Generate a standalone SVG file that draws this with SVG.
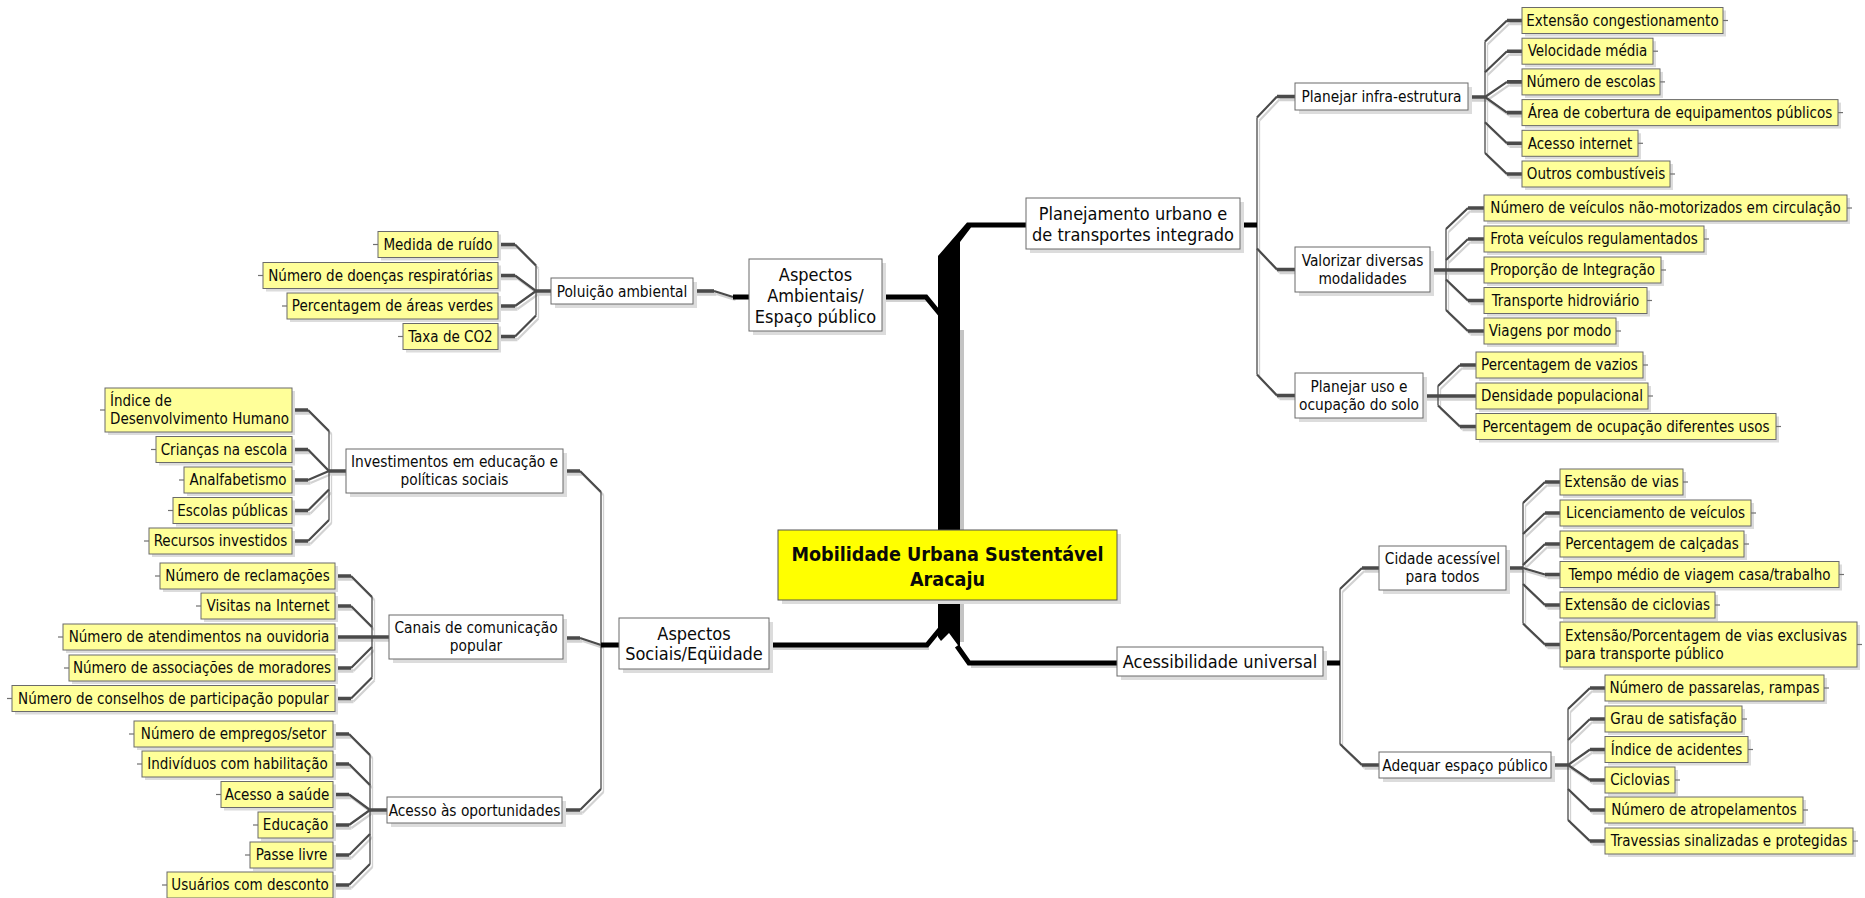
<svg xmlns="http://www.w3.org/2000/svg" xmlns:xlink="http://www.w3.org/1999/xlink" width="1865" height="898" viewBox="0 0 1865 898">
<style>
.t{font-family:"DejaVu Sans Condensed","DejaVu Sans",sans-serif;font-stretch:condensed;fill:#0a0a0a}
.lt{font-size:15px}
.mt{font-size:15.3px}
.tt{font-size:18px}
.ct{font-size:19.6px;font-weight:bold}
.m{text-anchor:middle}
.sh{fill:#dcdcdc}
.leaf .b{fill:#ffff99;stroke:#6a6a6a;stroke-width:1}
.box .b{fill:#ffffff;stroke:#6a6a6a;stroke-width:1}
.core .b{fill:#ffff00;stroke:#555;stroke-width:1}
.stub{stroke:#707070;stroke-width:1.2}
.sp{fill:none;stroke-width:1.3}
.dg{fill:none;stroke-width:2.2}
.hz{fill:none;stroke-width:3.6}
.blk{fill:none;stroke:#000;stroke-width:5}
</style>
<defs>
<g id="branchGeom">
<path class="sp" d="M1257,117.5V374.5"/>
<path class="dg" d="M1257,117.5L1277,96.5M1257,248.5L1277,269.5M1257,374.5L1277,395.5"/>
<path class="hz" d="M1277,96.5H1295M1277,269.5H1295M1277,395.5H1295"/>
<path class="sp" d="M1485,41.5V153"/>
<path class="dg" d="M1485,41.5L1507,20.5M1485,72.2L1507,51.2M1485,97L1507,81.9M1485,97L1507,112.6M1485,122.3L1507,143.3M1485,153L1507,174"/>
<path class="hz" d="M1468,97H1485M1507,20.5H1522M1507,51.2H1522M1507,81.9H1522M1507,112.6H1522M1507,143.3H1522M1507,174H1522"/>
<path class="sp" d="M1446,229V310"/>
<path class="dg" d="M1446,229L1468,208M1446,260L1468,239M1446,279.5L1468,300.5M1446,310L1468,331"/>
<path class="hz" d="M1430,270H1484M1468,208H1484M1468,239H1484M1468,300.5H1484M1468,331H1484"/>
<path class="sp" d="M1438,386V405.5"/>
<path class="dg" d="M1438,386L1460,365M1438,405.5L1460,426.5"/>
<path class="hz" d="M1423,396H1476M1460,365H1476M1460,426.5H1476"/>
<path class="sp" d="M1340,589V744"/>
<path class="dg" d="M1340,589L1362,568M1340,744L1362,765"/>
<path class="hz" d="M1362,568H1379M1362,765H1379"/>
<path class="sp" d="M1523,503V623.5"/>
<path class="dg" d="M1523,503L1545,482M1523,534L1545,513M1523,565L1545,544M1523,568L1545,574.5M1523,584L1545,605M1523,623.5L1545,644.5"/>
<path class="hz" d="M1506,568H1523M1545,482H1560M1545,513H1560M1545,544H1560M1545,574.5H1560M1545,605H1560M1545,644.5H1560"/>
<path class="sp" d="M1568,709V820"/>
<path class="dg" d="M1568,709L1590,688M1568,740L1590,719M1568,765L1590,749.5M1568,765L1590,780M1568,789L1590,810M1568,820L1590,841"/>
<path class="hz" d="M1551,765H1568M1590,688H1605M1590,719H1605M1590,749.5H1605M1590,780H1605M1590,810H1605M1590,841H1605"/>
<path class="sp" d="M536,265.5V315.5"/>
<path class="dg" d="M536,265.5L515,244.5M536,291L515,275.5M536,291L515,306M536,315.5L515,336.5"/>
<path class="hz" d="M551,291H536M515,244.5H498M515,275.5H498M515,306H498M515,336.5H498"/>
<path class="dg" d="M733,297L714,291"/>
<path class="hz" d="M714,291H693"/>
<path class="sp" d="M329,431V520"/>
<path class="dg" d="M329,431L308,410M329,471L308,449.5M329,471L308,480M329,489.5L308,510.5M329,520L308,541"/>
<path class="hz" d="M346,471H329M308,410H292M308,449.5H292M308,480H292M308,510.5H292M308,541H292"/>
<path class="sp" d="M372,597V677.5"/>
<path class="dg" d="M372,597L351,576M372,627L351,606M372,647L351,668M372,677.5L351,698.5"/>
<path class="hz" d="M389,637H335M351,576H335M351,606H335M351,668H335M351,698.5H335"/>
<path class="sp" d="M370,755V864"/>
<path class="dg" d="M370,755L349,734M370,785L349,764M370,810L349,794.5M370,810L349,825M370,834L349,855M370,864L349,885"/>
<path class="hz" d="M387,810H370M349,734H333M349,764H333M349,794.5H333M349,825H333M349,855H333M349,885H333"/>
<path class="sp" d="M601,492V789"/>
<path class="dg" d="M601,492L580,471M601,645L580,638M601,789L580,810"/>
<path class="hz" d="M580,471H563M580,638H563M580,810H563"/>
</g>
<g id="trunkGeom">
<polygon points="938,256 967,222.5 1026,222.5 1026,227.5 971,227.5 960,242 960,648 949,633 941,641 938,637"/>
<path class="blk" d="M882,297H926L940,314"/>
<path class="blk" d="M769,645H927L941,628"/>
<path class="blk" d="M1117,663H969L957,646"/>
<path class="blk" d="M1240,225H1257M1323,663H1340M619,645H601M749,297H733"/>
</g>
</defs>

<g id="connectors">
<use xlink:href="#branchGeom" href="#branchGeom" transform="translate(2.5,3)" stroke="#d2d2d2"/>
<use xlink:href="#branchGeom" href="#branchGeom" stroke="#4a4a4a"/>
<rect x="960" y="330" width="4" height="312" fill="#c4c4c4"/>
<path d="M884,300.5H928M771,648.5H929M1119,666.5H971" fill="none" stroke="#d2d2d2" stroke-width="3"/>
<use xlink:href="#trunkGeom" href="#trunkGeom" fill="#000"/>
</g>

<g id="n-central" class="core"><rect class="sh" x="782" y="534" width="339" height="70"/><rect class="b" x="778" y="530" width="339" height="70"/><text class="t ct m" x="947.5" y="560.5">Mobilidade Urbana Sustentável<tspan x="947.5" y="585.5">Aracaju</tspan></text></g>

<g id="n-planejamento" class="box"><rect class="sh" x="1030" y="202" width="214" height="51"/><rect class="b" x="1026" y="198" width="214" height="51"/><text class="t tt m" x="1133" y="219.5">Planejamento urbano e<tspan x="1133" y="240.5">de transportes integrado</tspan></text></g>
<g id="n-ambientais" class="box"><rect class="sh" x="753" y="263" width="133" height="72"/><rect class="b" x="749" y="259" width="133" height="72"/><text class="t tt m" x="815.5" y="280.5">Aspectos<tspan x="815.5" y="301.5">Ambientais/</tspan><tspan x="815.5" y="322.5">Espaço público</tspan></text></g>
<g id="n-sociais" class="box"><rect class="sh" x="623" y="622" width="150" height="51"/><rect class="b" x="619" y="618" width="150" height="51"/><text class="t tt m" x="694" y="639.5">Aspectos<tspan x="694" y="660">Sociais/Eqüidade</tspan></text></g>
<g id="n-acessibilidade" class="box"><rect class="sh" x="1121" y="651" width="206" height="29"/><rect class="b" x="1117" y="647" width="206" height="29"/><text class="t tt m" x="1220" y="668">Acessibilidade universal</text></g>

<g id="n-poluicao" class="box"><rect class="sh" x="555" y="282" width="142" height="26"/><rect class="b" x="551" y="278" width="142" height="26"/><text class="t mt m" x="622" y="296.5">Poluição ambiental</text></g>
<g id="n-investimentos" class="box"><rect class="sh" x="350" y="453" width="217" height="44"/><rect class="b" x="346" y="449" width="217" height="44"/><text class="t mt m" x="454.5" y="467">Investimentos em educação e<tspan x="454.5" y="485">políticas sociais</tspan></text></g>
<g id="n-canais" class="box"><rect class="sh" x="393" y="619" width="174" height="44"/><rect class="b" x="389" y="615" width="174" height="44"/><text class="t mt m" x="476" y="633">Canais de comunicação<tspan x="476" y="651">popular</tspan></text></g>
<g id="n-acesso-oportunidades" class="box"><rect class="sh" x="391" y="801" width="175" height="26"/><rect class="b" x="387" y="797" width="175" height="26"/><text class="t mt m" x="474.5" y="815.5">Acesso às oportunidades</text></g>
<g id="n-planejar-infra" class="box"><rect class="sh" x="1299" y="87" width="173" height="27"/><rect class="b" x="1295" y="83" width="173" height="27"/><text class="t mt m" x="1381.5" y="102">Planejar infra-estrutura</text></g>
<g id="n-valorizar" class="box"><rect class="sh" x="1299" y="251" width="135" height="45"/><rect class="b" x="1295" y="247" width="135" height="45"/><text class="t mt m" x="1362.5" y="265.5">Valorizar diversas<tspan x="1362.5" y="283.5">modalidades</tspan></text></g>
<g id="n-planejar-uso" class="box"><rect class="sh" x="1299" y="377" width="128" height="45"/><rect class="b" x="1295" y="373" width="128" height="45"/><text class="t mt m" x="1359" y="391.5">Planejar uso e<tspan x="1359" y="409.5">ocupação do solo</tspan></text></g>
<g id="n-cidade" class="box"><rect class="sh" x="1383" y="550" width="127" height="44"/><rect class="b" x="1379" y="546" width="127" height="44"/><text class="t mt m" x="1442.5" y="564">Cidade acessível<tspan x="1442.5" y="582">para todos</tspan></text></g>
<g id="n-adequar" class="box"><rect class="sh" x="1383" y="756" width="172" height="26"/><rect class="b" x="1379" y="752" width="172" height="26"/><text class="t mt m" x="1465" y="770.5">Adequar espaço público</text></g>

<g id="l-ext-cong" class="leaf"><rect class="sh" x="1525" y="10.5" width="201" height="26"/><rect class="b" x="1522" y="7.5" width="201" height="26"/><text class="t lt m" x="1622.5" y="25.7">Extensão congestionamento</text><line class="stub" x1="1723" y1="20.5" x2="1728" y2="20.5"/></g>
<g id="l-velocidade" class="leaf"><rect class="sh" x="1525" y="41.2" width="131" height="26"/><rect class="b" x="1522" y="38.2" width="131" height="26"/><text class="t lt m" x="1587.5" y="56.4">Velocidade média</text><line class="stub" x1="1653" y1="51.2" x2="1658" y2="51.2"/></g>
<g id="l-escolas" class="leaf"><rect class="sh" x="1525" y="71.9" width="138" height="26"/><rect class="b" x="1522" y="68.9" width="138" height="26"/><text class="t lt m" x="1591" y="87.1">Número de escolas</text><line class="stub" x1="1660" y1="81.9" x2="1665" y2="81.9"/></g>
<g id="l-area" class="leaf"><rect class="sh" x="1525" y="102.6" width="316" height="26"/><rect class="b" x="1522" y="99.6" width="316" height="26"/><text class="t lt m" x="1680" y="117.8">Área de cobertura de equipamentos públicos</text><line class="stub" x1="1838" y1="112.6" x2="1843" y2="112.6"/></g>
<g id="l-internet" class="leaf"><rect class="sh" x="1525" y="133.3" width="116" height="26"/><rect class="b" x="1522" y="130.3" width="116" height="26"/><text class="t lt m" x="1580" y="148.5">Acesso internet</text><line class="stub" x1="1638" y1="143.3" x2="1643" y2="143.3"/></g>
<g id="l-outros" class="leaf"><rect class="sh" x="1525" y="164" width="148" height="26"/><rect class="b" x="1522" y="161" width="148" height="26"/><text class="t lt m" x="1596" y="179.2">Outros combustíveis</text><line class="stub" x1="1670" y1="174" x2="1675" y2="174"/></g>
<g id="l-nao-motorizados" class="leaf"><rect class="sh" x="1487" y="198" width="363" height="26"/><rect class="b" x="1484" y="195" width="363" height="26"/><text class="t lt m" x="1665.5" y="213.2">Número de veículos não-motorizados em circulação</text><line class="stub" x1="1847" y1="208" x2="1852" y2="208"/></g>
<g id="l-frota" class="leaf"><rect class="sh" x="1487" y="229" width="220" height="26"/><rect class="b" x="1484" y="226" width="220" height="26"/><text class="t lt m" x="1594" y="244.2">Frota veículos regulamentados</text><line class="stub" x1="1704" y1="239" x2="1709" y2="239"/></g>
<g id="l-proporcao" class="leaf"><rect class="sh" x="1487" y="260" width="177" height="26"/><rect class="b" x="1484" y="257" width="177" height="26"/><text class="t lt m" x="1572.5" y="275.2">Proporção de Integração</text><line class="stub" x1="1661" y1="270" x2="1666" y2="270"/></g>
<g id="l-hidroviario" class="leaf"><rect class="sh" x="1487" y="290.5" width="163" height="26"/><rect class="b" x="1484" y="287.5" width="163" height="26"/><text class="t lt m" x="1565.5" y="305.7">Transporte hidroviário</text><line class="stub" x1="1647" y1="300.5" x2="1652" y2="300.5"/></g>
<g id="l-viagens" class="leaf"><rect class="sh" x="1487" y="321" width="132" height="26"/><rect class="b" x="1484" y="318" width="132" height="26"/><text class="t lt m" x="1550" y="336.2">Viagens por modo</text><line class="stub" x1="1616" y1="331" x2="1621" y2="331"/></g>
<g id="l-vazios" class="leaf"><rect class="sh" x="1479" y="355" width="167" height="26"/><rect class="b" x="1476" y="352" width="167" height="26"/><text class="t lt m" x="1559.5" y="370.2">Percentagem de vazios</text><line class="stub" x1="1643" y1="365" x2="1648" y2="365"/></g>
<g id="l-densidade" class="leaf"><rect class="sh" x="1479" y="386" width="172" height="26"/><rect class="b" x="1476" y="383" width="172" height="26"/><text class="t lt m" x="1562" y="401.2">Densidade populacional</text><line class="stub" x1="1648" y1="396" x2="1653" y2="396"/></g>
<g id="l-ocupacao" class="leaf"><rect class="sh" x="1479" y="416.5" width="300" height="26"/><rect class="b" x="1476" y="413.5" width="300" height="26"/><text class="t lt m" x="1626" y="431.7">Percentagem de ocupação diferentes usos</text><line class="stub" x1="1776" y1="426.5" x2="1781" y2="426.5"/></g>
<g id="l-vias" class="leaf"><rect class="sh" x="1563" y="472" width="123" height="26"/><rect class="b" x="1560" y="469" width="123" height="26"/><text class="t lt m" x="1621.5" y="487.2">Extensão de vias</text><line class="stub" x1="1683" y1="482" x2="1688" y2="482"/></g>
<g id="l-licenciamento" class="leaf"><rect class="sh" x="1563" y="503" width="191" height="26"/><rect class="b" x="1560" y="500" width="191" height="26"/><text class="t lt m" x="1655.5" y="518.2">Licenciamento de veículos</text><line class="stub" x1="1751" y1="513" x2="1756" y2="513"/></g>
<g id="l-calcadas" class="leaf"><rect class="sh" x="1563" y="534" width="184" height="26"/><rect class="b" x="1560" y="531" width="184" height="26"/><text class="t lt m" x="1652" y="549.2">Percentagem de calçadas</text><line class="stub" x1="1744" y1="544" x2="1749" y2="544"/></g>
<g id="l-tempo" class="leaf"><rect class="sh" x="1563" y="564.5" width="279" height="26"/><rect class="b" x="1560" y="561.5" width="279" height="26"/><text class="t lt m" x="1699.5" y="579.7">Tempo médio de viagem casa/trabalho</text><line class="stub" x1="1839" y1="574.5" x2="1844" y2="574.5"/></g>
<g id="l-ext-ciclovias" class="leaf"><rect class="sh" x="1563" y="595" width="155" height="26"/><rect class="b" x="1560" y="592" width="155" height="26"/><text class="t lt m" x="1637.5" y="610.2">Extensão de ciclovias</text><line class="stub" x1="1715" y1="605" x2="1720" y2="605"/></g>
<g id="l-vias-exclusivas" class="leaf"><rect class="sh" x="1563" y="625" width="297" height="45"/><rect class="b" x="1560" y="622" width="297" height="45"/><text class="t lt" x="1565" y="641">Extensão/Porcentagem de vias exclusivas<tspan x="1565" y="659">para transporte público</tspan></text><line class="stub" x1="1857" y1="644.5" x2="1862" y2="644.5"/></g>
<g id="l-passarelas" class="leaf"><rect class="sh" x="1608" y="678" width="219" height="26"/><rect class="b" x="1605" y="675" width="219" height="26"/><text class="t lt m" x="1714.5" y="693.2">Número de passarelas, rampas</text><line class="stub" x1="1824" y1="688" x2="1829" y2="688"/></g>
<g id="l-grau" class="leaf"><rect class="sh" x="1608" y="709" width="137" height="26"/><rect class="b" x="1605" y="706" width="137" height="26"/><text class="t lt m" x="1673.5" y="724.2">Grau de satisfação</text><line class="stub" x1="1742" y1="719" x2="1747" y2="719"/></g>
<g id="l-acidentes" class="leaf"><rect class="sh" x="1608" y="739.5" width="143" height="26"/><rect class="b" x="1605" y="736.5" width="143" height="26"/><text class="t lt m" x="1676.5" y="754.7">Índice de acidentes</text><line class="stub" x1="1748" y1="749.5" x2="1753" y2="749.5"/></g>
<g id="l-ciclovias" class="leaf"><rect class="sh" x="1608" y="770" width="70" height="26"/><rect class="b" x="1605" y="767" width="70" height="26"/><text class="t lt m" x="1640" y="785.2">Ciclovias</text><line class="stub" x1="1675" y1="780" x2="1680" y2="780"/></g>
<g id="l-atropelamentos" class="leaf"><rect class="sh" x="1608" y="800" width="198" height="26"/><rect class="b" x="1605" y="797" width="198" height="26"/><text class="t lt m" x="1704" y="815.2">Número de atropelamentos</text><line class="stub" x1="1803" y1="810" x2="1808" y2="810"/></g>
<g id="l-travessias" class="leaf"><rect class="sh" x="1608" y="831" width="248" height="26"/><rect class="b" x="1605" y="828" width="248" height="26"/><text class="t lt m" x="1729" y="846.2">Travessias sinalizadas e protegidas</text><line class="stub" x1="1853" y1="841" x2="1858" y2="841"/></g>
<g id="l-ruido" class="leaf"><rect class="sh" x="381" y="234.5" width="120" height="26"/><rect class="b" x="378" y="231.5" width="120" height="26"/><text class="t lt m" x="438" y="249.7">Medida de ruído</text><line class="stub" x1="373" y1="244.5" x2="378" y2="244.5"/></g>
<g id="l-doencas" class="leaf"><rect class="sh" x="266" y="265.5" width="235" height="26"/><rect class="b" x="263" y="262.5" width="235" height="26"/><text class="t lt m" x="380.5" y="280.7">Número de doenças respiratórias</text><line class="stub" x1="258" y1="275.5" x2="263" y2="275.5"/></g>
<g id="l-areas-verdes" class="leaf"><rect class="sh" x="290" y="296" width="211" height="26"/><rect class="b" x="287" y="293" width="211" height="26"/><text class="t lt m" x="392.5" y="311.2">Percentagem de áreas verdes</text><line class="stub" x1="282" y1="306" x2="287" y2="306"/></g>
<g id="l-co2" class="leaf"><rect class="sh" x="406" y="326.5" width="95" height="26"/><rect class="b" x="403" y="323.5" width="95" height="26"/><text class="t lt m" x="450.5" y="341.7">Taxa de CO2</text><line class="stub" x1="398" y1="336.5" x2="403" y2="336.5"/></g>
<g id="l-idh" class="leaf"><rect class="sh" x="108" y="391" width="187" height="44"/><rect class="b" x="105" y="388" width="187" height="44"/><text class="t lt" x="110" y="406">Índice de<tspan x="110" y="424">Desenvolvimento Humano</tspan></text><line class="stub" x1="100" y1="410" x2="105" y2="410"/></g>
<g id="l-criancas" class="leaf"><rect class="sh" x="159" y="439.5" width="136" height="26"/><rect class="b" x="156" y="436.5" width="136" height="26"/><text class="t lt m" x="224" y="454.7">Crianças na escola</text><line class="stub" x1="151" y1="449.5" x2="156" y2="449.5"/></g>
<g id="l-analfabetismo" class="leaf"><rect class="sh" x="187" y="470" width="108" height="26"/><rect class="b" x="184" y="467" width="108" height="26"/><text class="t lt m" x="238" y="485.2">Analfabetismo</text><line class="stub" x1="179" y1="480" x2="184" y2="480"/></g>
<g id="l-escolas-publicas" class="leaf"><rect class="sh" x="176" y="500.5" width="119" height="26"/><rect class="b" x="173" y="497.5" width="119" height="26"/><text class="t lt m" x="232.5" y="515.7">Escolas públicas</text><line class="stub" x1="168" y1="510.5" x2="173" y2="510.5"/></g>
<g id="l-recursos" class="leaf"><rect class="sh" x="152" y="531" width="143" height="26"/><rect class="b" x="149" y="528" width="143" height="26"/><text class="t lt m" x="220.5" y="546.2">Recursos investidos</text><line class="stub" x1="144" y1="541" x2="149" y2="541"/></g>
<g id="l-reclamacoes" class="leaf"><rect class="sh" x="163" y="566" width="175" height="26"/><rect class="b" x="160" y="563" width="175" height="26"/><text class="t lt m" x="247.5" y="581.2">Número de reclamações</text><line class="stub" x1="155" y1="576" x2="160" y2="576"/></g>
<g id="l-visitas" class="leaf"><rect class="sh" x="204" y="596" width="134" height="26"/><rect class="b" x="201" y="593" width="134" height="26"/><text class="t lt m" x="268" y="611.2">Visitas na Internet</text><line class="stub" x1="196" y1="606" x2="201" y2="606"/></g>
<g id="l-atendimentos" class="leaf"><rect class="sh" x="66" y="627" width="272" height="26"/><rect class="b" x="63" y="624" width="272" height="26"/><text class="t lt m" x="199" y="642.2">Número de atendimentos na ouvidoria</text><line class="stub" x1="58" y1="637" x2="63" y2="637"/></g>
<g id="l-associacoes" class="leaf"><rect class="sh" x="72" y="658" width="266" height="26"/><rect class="b" x="69" y="655" width="266" height="26"/><text class="t lt m" x="202" y="673.2">Número de associações de moradores</text><line class="stub" x1="64" y1="668" x2="69" y2="668"/></g>
<g id="l-conselhos" class="leaf"><rect class="sh" x="15" y="688.5" width="323" height="26"/><rect class="b" x="12" y="685.5" width="323" height="26"/><text class="t lt m" x="173.5" y="703.7">Número de conselhos de participação popular</text><line class="stub" x1="7" y1="698.5" x2="12" y2="698.5"/></g>
<g id="l-empregos" class="leaf"><rect class="sh" x="137" y="724" width="199" height="26"/><rect class="b" x="134" y="721" width="199" height="26"/><text class="t lt m" x="233.5" y="739.2">Número de empregos/setor</text><line class="stub" x1="129" y1="734" x2="134" y2="734"/></g>
<g id="l-habilitacao" class="leaf"><rect class="sh" x="145" y="754" width="191" height="26"/><rect class="b" x="142" y="751" width="191" height="26"/><text class="t lt m" x="237.5" y="769.2">Indivíduos com habilitação</text><line class="stub" x1="137" y1="764" x2="142" y2="764"/></g>
<g id="l-saude" class="leaf"><rect class="sh" x="224" y="784.5" width="112" height="26"/><rect class="b" x="221" y="781.5" width="112" height="26"/><text class="t lt m" x="277" y="799.7">Acesso a saúde</text><line class="stub" x1="216" y1="794.5" x2="221" y2="794.5"/></g>
<g id="l-educacao" class="leaf"><rect class="sh" x="261" y="815" width="75" height="26"/><rect class="b" x="258" y="812" width="75" height="26"/><text class="t lt m" x="295.5" y="830.2">Educação</text><line class="stub" x1="253" y1="825" x2="258" y2="825"/></g>
<g id="l-passe" class="leaf"><rect class="sh" x="253" y="845" width="83" height="26"/><rect class="b" x="250" y="842" width="83" height="26"/><text class="t lt m" x="291.5" y="860.2">Passe livre</text><line class="stub" x1="245" y1="855" x2="250" y2="855"/></g>
<g id="l-desconto" class="leaf"><rect class="sh" x="170" y="875" width="166" height="26"/><rect class="b" x="167" y="872" width="166" height="26"/><text class="t lt m" x="250" y="890.2">Usuários com desconto</text><line class="stub" x1="162" y1="885" x2="167" y2="885"/></g>
</svg>
